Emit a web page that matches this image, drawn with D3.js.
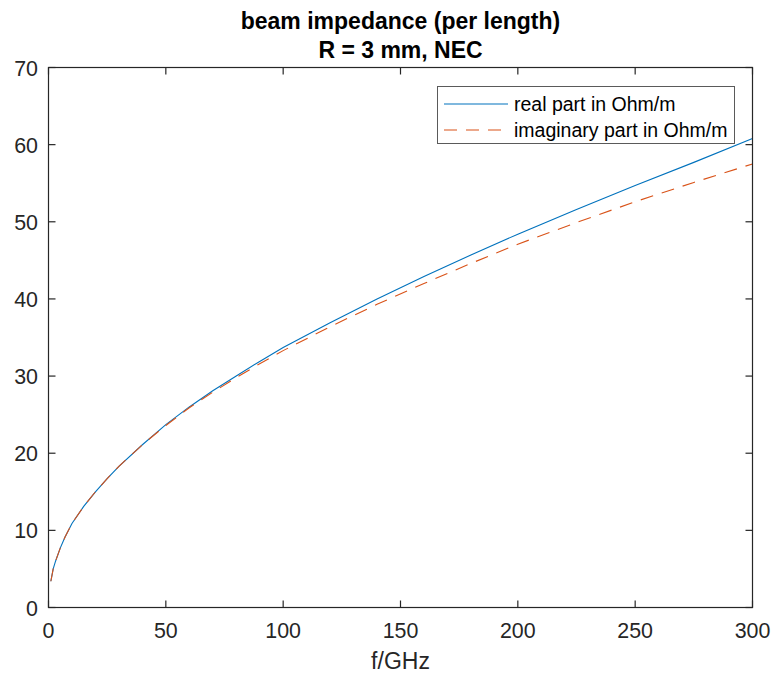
<!DOCTYPE html>
<html>
<head>
<meta charset="utf-8">
<script src="https://cdn.jsdelivr.net/npm/d3@7"></script>
<style>
	body { margin: 0; background: #fff; }
	svg text { font-family: "Liberation Sans", Arial, sans-serif; fill: #262626; }
</style>
</head>
<body>
<svg width="774" height="675"></svg>
<script>
// frequency in GHz and impedance values
const freq = [1, 2, 3, 5, 7, 10, 15, 20, 25, 30, 40, 50, 60, 70, 80, 90, 100, 120, 140, 160, 180, 200, 225, 250, 275, 300];
const realPart = [3.4, 5.0, 6.0, 7.7, 9.1, 10.9, 13.1, 15.0, 16.7, 18.3, 21.1, 23.7, 26.0, 28.1, 30.0, 31.9, 33.7, 36.9, 40.0, 42.9, 45.7, 48.4, 51.6, 54.7, 57.7, 60.8];
const imagPart = [3.4, 5.0, 6.0, 7.7, 9.1, 10.9, 13.1, 15.0, 16.7, 18.3, 21.1, 23.6, 25.9, 27.9, 29.8, 31.6, 33.3, 36.4, 39.3, 42.0, 44.6, 47.1, 49.9, 52.6, 55.1, 57.5];
const xTicks = [0, 50, 100, 150, 200, 250, 300];
const yTicks = [0, 10, 20, 30, 40, 50, 60, 70];
const seriesNames = ['real part in Ohm/m', 'imaginary part in Ohm/m'];
const titleLines = ['beam impedance (per length)', 'R = 3 mm, NEC'];

const svg = d3.select('svg'),
	plotLeft = 48.5, plotRight = 752.5, plotTop = 67.5, plotBottom = 607.5,
	axisColor = '#262626',
	tickLen = 7;

const x = d3.scaleLinear().domain([0, 300]).range([plotLeft, plotRight]);
const y = d3.scaleLinear().domain([0, 70]).range([plotBottom, plotTop]);

// curves
const line = d3.line().x(d => x(d[0])).y(d => y(d[1]));
const series = [
	{name: seriesNames[0], color: '#0072BD', dash: null, values: freq.map((f, i) => [f, realPart[i]])},
	{name: seriesNames[1], color: '#D95319', dash: '13,9', values: freq.map((f, i) => [f, imagPart[i]])}
];

svg.append('g').selectAll('path')
	.data(series)
	.enter().append('path')
	.attr('d', d => line(d.values))
	.attr('fill', 'none')
	.attr('stroke', d => d.color)
	.attr('stroke-width', 1.1)
	.attr('stroke-dasharray', d => d.dash);

// box and ticks (MATLAB style, ticks on all four sides pointing inward)
const axes = svg.append('g').attr('stroke', axisColor).attr('stroke-width', 1.2);
axes.append('rect')
	.attr('x', plotLeft).attr('y', plotTop)
	.attr('width', plotRight - plotLeft).attr('height', plotBottom - plotTop)
	.attr('fill', 'none');

xTicks.forEach(t => {
	axes.append('line').attr('x1', x(t)).attr('x2', x(t)).attr('y1', plotBottom).attr('y2', plotBottom - tickLen);
	axes.append('line').attr('x1', x(t)).attr('x2', x(t)).attr('y1', plotTop).attr('y2', plotTop + tickLen);
});
yTicks.forEach(t => {
	axes.append('line').attr('x1', plotLeft).attr('x2', plotLeft + tickLen).attr('y1', y(t)).attr('y2', y(t));
	axes.append('line').attr('x1', plotRight).attr('x2', plotRight - tickLen).attr('y1', y(t)).attr('y2', y(t));
});

// tick labels
svg.append('g').selectAll('text')
	.data(xTicks)
	.enter().append('text')
	.attr('x', d => x(d))
	.attr('y', plotBottom + 30.5)
	.attr('text-anchor', 'middle')
	.attr('font-size', 21.4)
	.text(d => d);

svg.append('g').selectAll('text')
	.data(yTicks)
	.enter().append('text')
	.attr('x', plotLeft - 10.5)
	.attr('y', d => y(d) + 8)
	.attr('text-anchor', 'end')
	.attr('font-size', 21.4)
	.text(d => d);

// axis label
svg.append('text')
	.attr('x', (plotLeft + plotRight) / 2)
	.attr('y', 669)
	.attr('text-anchor', 'middle')
	.attr('font-size', 23)
	.text('f/GHz');

// title
svg.append('g').selectAll('text')
	.data(titleLines)
	.enter().append('text')
	.attr('x', (plotLeft + plotRight) / 2)
	.attr('y', (d, i) => 29 + i * 28.5)
	.attr('text-anchor', 'middle')
	.attr('font-size', 23)
	.attr('font-weight', 'bold')
	.style('fill', '#000')
	.text(d => d);

// legend
const legend = svg.append('g');
legend.append('rect')
	.attr('x', 437.5).attr('y', 86.5)
	.attr('width', 297).attr('height', 57)
	.attr('fill', '#fff')
	.attr('stroke', '#5a5a5a')
	.attr('stroke-width', 1);

series.forEach((s, i) => {
	const ly = 104 + i * 26;
	legend.append('line')
		.attr('x1', 444).attr('x2', 508)
		.attr('y1', ly).attr('y2', ly)
		.attr('stroke', s.color)
		.attr('stroke-width', 1.1)
		.attr('stroke-dasharray', s.dash);
	legend.append('text')
		.attr('x', 514)
		.attr('y', ly + 7)
		.attr('font-size', 19.5)
		.style('fill', '#000')
		.text(s.name);
});
</script>
</body>
</html>
